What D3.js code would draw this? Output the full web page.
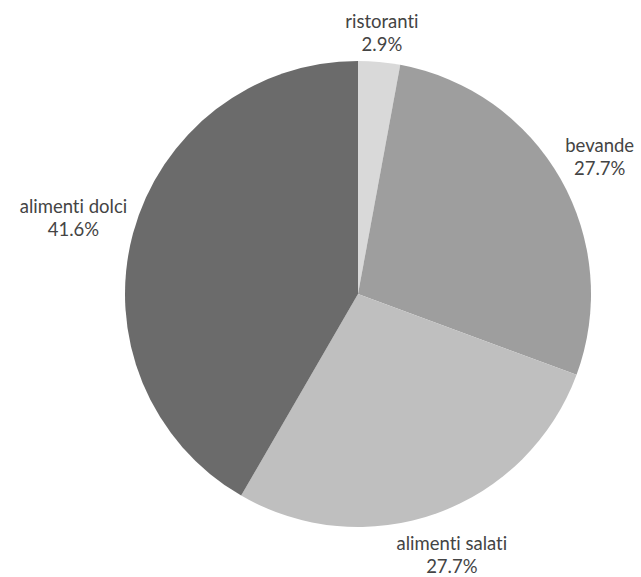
<!DOCTYPE html>
<html>
<head>
<meta charset="utf-8">
<script src="https://cdn.jsdelivr.net/npm/d3@7"></script>
<style>
  body { margin: 0; background: #fff; }
  svg { display: block; }
</style>
</head>
<body>
<svg id="chart" width="641" height="577"></svg>
<script>
var categories = ["ristoranti", "bevande", "alimenti salati", "alimenti dolci"];
var values = [2.9, 27.7, 27.7, 41.6];
var colors = ["#d9d9d9", "#9e9e9e", "#bfbfbf", "#6b6b6b"];

var width = 641;
var height = 577;
var cx = 358, cy = 294, radius = 233;

var svg = d3.select("#chart");

var pie = d3.pie().sort(null).value(d => d.value);
var arc = d3.arc().innerRadius(0).outerRadius(radius);

var data = categories.map((c, i) => ({ name: c, value: values[i], color: colors[i] }));
var arcs = pie(data);

var g = svg.append("g").attr("transform", `translate(${cx},${cy})`);

g.selectAll("path")
    .data(arcs)
    .enter()
    .append("path")
    .attr("d", arc)
    .attr("fill", d => d.data.color);

// labels outside, pushed out so the box clears the circle
var labels = svg.append("g");
arcs.forEach(d => {
    var t = labels.append("text")
        .attr("text-anchor", "middle")
        .style("font-family", "Lato, sans-serif")
        .style("font-size", "18.5px")
        .style("font-variant-ligatures", "none")
        .style("fill", "#444");
    t.append("tspan").attr("x", 0).attr("dy", 0).text(d.data.name);
    t.append("tspan").attr("x", 0).attr("dy", 22.5).text(d3.format(".1f")(d.data.value) + "%");

    var box = t.node().getBBox();
    var a = (d.startAngle + d.endAngle) / 2;
    var s = Math.sin(a), c = Math.cos(a);
    var dist = radius + 4 + Math.abs(s) * box.width / 2 + Math.abs(c) * box.height / 2;
    var px = cx + s * dist;
    var py = cy - c * dist;
    var midY = box.y + box.height / 2;
    t.attr("transform", `translate(${px},${py - midY})`);
});
</script>
</body>
</html>
